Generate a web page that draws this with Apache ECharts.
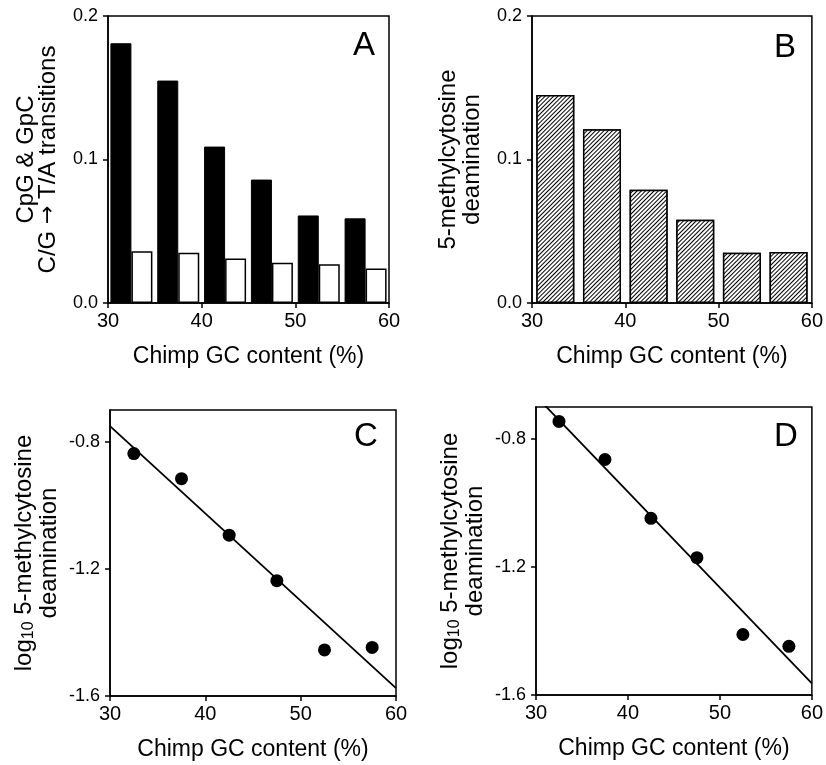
<!DOCTYPE html>
<html>
<head>
<meta charset="utf-8">
<script src="https://cdn.jsdelivr.net/npm/echarts@6/dist/echarts.min.js"></script>
<style>
html,body{margin:0;padding:0;background:#fff;}
#chart{width:826px;height:765px;}
</style>
</head>
<body>
<div id="chart"></div>
<script>
// ---- data ----
const xTicks = [30, 40, 50, 60];
const binCenters = [32.5, 37.5, 42.5, 47.5, 52.5, 57.5];
const cpgTransitions = [0.181, 0.155, 0.109, 0.086, 0.061, 0.059];   // panel A, black bars
const otherTransitions = [0.036, 0.035, 0.031, 0.028, 0.027, 0.024]; // panel A, white bars
const methylDeamination = [0.145, 0.121, 0.079, 0.058, 0.035, 0.0355]; // panel B
const logDeamC = [-0.837, -0.916, -1.094, -1.237, -1.455, -1.447];  // panel C
const logDeamD = [-0.745, -0.864, -1.048, -1.171, -1.411, -1.448];  // panel D
const fitC = [[30, -0.751], [60, -1.575]];
const fitD = [[30, -0.666], [60, -1.564]];
const barTicks = [0, 0.1, 0.2];
const logTicks = [-1.6, -1.2, -0.8];

const FONT = '"Liberation Sans", Arial, Helvetica, sans-serif';
const pair = (xs, ys) => xs.map((x, i) => [x, ys[i]]);

const grids = [
  {left: 108, top: 16, width: 281, height: 287},
  {left: 532, top: 16, width: 284, height: 287},
  {left: 110, top: 410, width: 286, height: 286},
  {left: 536, top: 407, width: 285, height: 288}
].map(g => Object.assign({show: true, borderColor: '#000', borderWidth: 1.5, backgroundColor: 'transparent'}, g));

const xTitle = 'Chimp GC content (%)';
function xAxis(i) {
  return {
    type: 'value', gridIndex: i, min: 30, max: 60, interval: 10,
    name: xTitle, nameLocation: 'middle', nameGap: 42,
    nameTextStyle: {fontFamily: FONT, fontSize: 23, color: '#000'},
    axisLine: {show: true, onZero: false, lineStyle: {color: '#000', width: 1.5}},
    axisTick: {show: true, length: 5, lineStyle: {color: '#000', width: 1.5}, customValues: xTicks},
    axisLabel: {fontFamily: FONT, fontSize: 20, color: '#000', margin: 8, customValues: xTicks},
    splitLine: {show: false}
  };
}
function yAxis(i, min, max, ticks, name, gap, rich, lh) {
  const ax = {
    type: 'value', gridIndex: i, min: min, max: max,
    name: name, nameLocation: 'middle', nameGap: gap,
    nameTextStyle: {fontFamily: FONT, fontSize: 24, color: '#000', lineHeight: lh},
    axisLine: {show: true, onZero: false, lineStyle: {color: '#000', width: 1.5}},
    axisTick: {show: true, length: 5, lineStyle: {color: '#000', width: 1.5}, customValues: ticks},
    axisLabel: {fontFamily: FONT, fontSize: 18, color: '#000', margin: 10, customValues: ticks,
      formatter: v => Number(v).toFixed(1)},
    splitLine: {show: false}
  };
  if (rich) ax.nameTextStyle.rich = rich;
  return ax;
}

const logRich = {
  n: {fontFamily: FONT, fontSize: 24, color: '#000', lineHeight: 25},
  s: {fontFamily: FONT, fontSize: 16, color: '#000', lineHeight: 10, verticalAlign: 'bottom'}
};
const logName = '{n|log}{s|10}{n| 5-methylcytosine}\n{n|deamination}';

const transRich = {
  n: {fontFamily: FONT, fontSize: 24, color: '#000', lineHeight: 22},
  a: {fontFamily: '"DejaVu Sans", sans-serif', fontSize: 22, color: '#000', lineHeight: 22}
};
const transName = '{n|CpG & GpC}\n{n|C/G }{a|\u2192}{n| T/A transitions}';

const hatch = {
  symbol: 'rect', symbolSize: 1, color: '#000', backgroundColor: '#fff',
  dashArrayX: [1, 0], dashArrayY: [1, 2], rotation: -Math.PI / 4
};

const option = {
  animation: false,
  backgroundColor: '#fff',
  grid: grids,
  xAxis: [xAxis(0), xAxis(1), xAxis(2), xAxis(3)],
  yAxis: [
    yAxis(0, 0, 0.2, barTicks, transName, 49, transRich, 22),
    yAxis(1, 0, 0.2, barTicks, '5-methylcytosine\ndeamination', 48, null, 24),
    yAxis(2, -1.6, -0.7, logTicks, logName, 48, logRich, 25),
    yAxis(3, -1.6, -0.7, logTicks, logName, 48, logRich, 25)
  ],
  series: [
    {type: 'bar', xAxisIndex: 0, yAxisIndex: 0, barWidth: 21, barGap: '0%',
     data: pair(binCenters, cpgTransitions),
     itemStyle: {color: '#000', borderColor: '#000', borderWidth: 1}},
    {type: 'bar', xAxisIndex: 0, yAxisIndex: 0, barWidth: 21, barGap: '0%',
     data: pair(binCenters, otherTransitions),
     itemStyle: {color: '#fff', borderColor: '#000', borderWidth: 1.5}},
    {type: 'bar', xAxisIndex: 1, yAxisIndex: 1, barWidth: 38,
     data: pair(binCenters, methylDeamination),
     itemStyle: {color: '#fff', borderColor: '#000', borderWidth: 1.5, decal: hatch}},
    {type: 'line', xAxisIndex: 2, yAxisIndex: 2, data: fitC, symbol: 'none', clip: true,
     lineStyle: {color: '#000', width: 1.8}},
    {type: 'scatter', xAxisIndex: 2, yAxisIndex: 2, data: pair(binCenters, logDeamC),
     symbol: 'circle', symbolSize: 13, itemStyle: {color: '#000', opacity: 1}},
    {type: 'line', xAxisIndex: 3, yAxisIndex: 3, data: fitD, symbol: 'none', clip: true,
     lineStyle: {color: '#000', width: 1.8}},
    {type: 'scatter', xAxisIndex: 3, yAxisIndex: 3, data: pair(binCenters, logDeamD),
     symbol: 'circle', symbolSize: 13, itemStyle: {color: '#000', opacity: 1}}
  ],
  graphic: [
    {type: 'text', left: 353, top: 29, style: {text: 'A', fontFamily: FONT, fontSize: 33, fill: '#000'}},
    {type: 'text', left: 774, top: 31, style: {text: 'B', fontFamily: FONT, fontSize: 33, fill: '#000'}},
    {type: 'text', left: 354, top: 420, style: {text: 'C', fontFamily: FONT, fontSize: 33, fill: '#000'}},
    {type: 'text', left: 774, top: 420, style: {text: 'D', fontFamily: FONT, fontSize: 33, fill: '#000'}}
  ]
};

const chart = echarts.init(document.getElementById('chart'), null, {renderer: 'canvas'});
chart.setOption(option);
</script>
</body>
</html>
